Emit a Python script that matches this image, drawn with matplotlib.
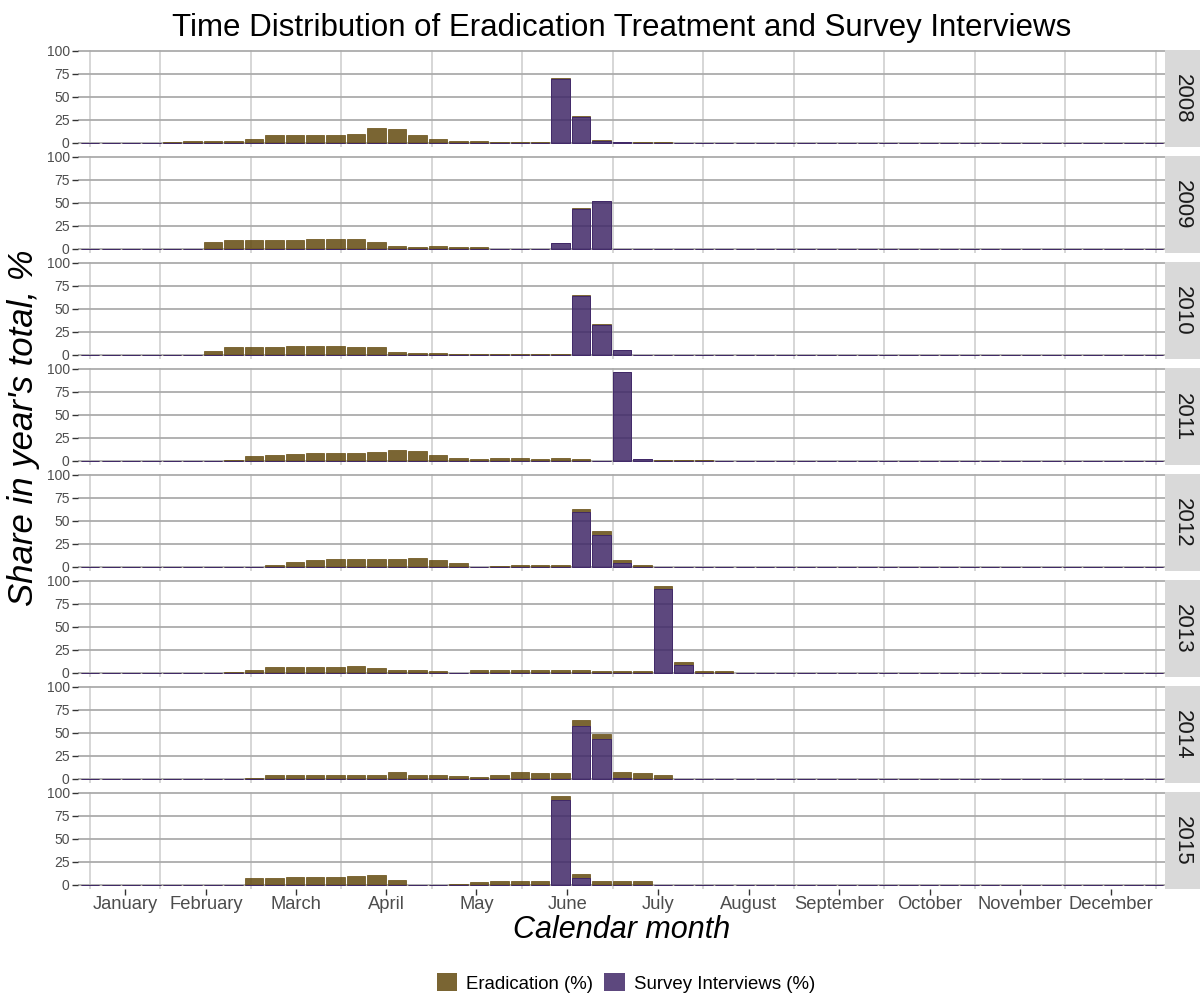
import numpy as np
import matplotlib
matplotlib.use('Agg')
from matplotlib import pyplot as plt
from matplotlib.colors import to_rgba
from matplotlib.patches import Rectangle

plt.rcParams['font.family'] = ['Liberation Sans', 'DejaVu Sans']

years = [2008, 2009, 2010, 2011, 2012, 2013, 2014, 2015]
n_weeks = 53
weeks = np.arange(1, n_weeks + 1)

# eradication share, weeks 5..32 (zero elsewhere)
erad_2008 = [1, 2, 2, 2, 4.3, 8.7, 8.7, 8.7, 8.7, 9.7, 16.2, 15.2, 8.7, 4.3, 2.2, 2.2, 1.1, 1.1, 1.1, 1, 0.5, 1.4, 0, 1, 1, 0, 0, 0]
erad_2009 = [0, 0, 7.2, 9.4, 9.4, 9.4, 9.4, 10.5, 10.5, 10.5, 7.2, 2.9, 1.8, 2.9, 1.8, 1.8, 0, 0, 0, 0, 1, 0, 0, 0, 0, 0, 0, 0]
erad_2010 = [0, 0, 4.7, 9.1, 9.1, 9.1, 10.2, 10.2, 10.2, 9.1, 9.1, 3.6, 2.5, 2.5, 1.5, 1.5, 1.5, 1.5, 1.5, 1.5, 0.6, 0.9, 0, 0, 0, 0, 0, 0]
erad_2011 = [0, 0, 0, 1.1, 5.4, 6.5, 7.6, 8.7, 8.7, 8.7, 9.8, 12, 10.9, 6.5, 3.3, 2.2, 3.3, 3.3, 2.2, 3.3, 2.2, 0, 0, 0, 0.8, 0.8, 0.8, 0]
erad_2012 = [0, 0, 0, 0, 0, 2.5, 5.8, 8, 9.1, 9.1, 9.1, 9.1, 10.2, 8, 4.7, 0, 1.5, 2.5, 2.5, 2.5, 3.2, 3.3, 3.3, 2.5, 0, 0, 0, 0]
erad_2013 = [0, 0, 0, 1.1, 3.3, 6.5, 6.5, 6.5, 6.5, 7.6, 5.4, 3.3, 3.3, 2.2, 0, 3.3, 3.3, 3.3, 3.3, 3.3, 3.3, 2.2, 2.2, 2.2, 2.5, 3.3, 2.2, 2.2]
erad_2014 = [0, 0, 0, 0, 1.1, 4.3, 4.3, 4.3, 4.3, 4.3, 4.3, 7.6, 4.3, 4.3, 3.2, 2.2, 4.3, 7.6, 6.5, 6.5, 6.9, 5.7, 6.5, 6, 4.3, 0, 0, 0]
erad_2015 = [0, 0, 0, 0, 7.2, 7.2, 8.3, 8.3, 8.3, 9.4, 10.5, 5, 0, 0, 1.5, 2.9, 4, 4, 4, 4.3, 4.3, 4, 4, 4, 0, 0, 0, 0]

# survey interviews share, weeks 24..30 (zero elsewhere)
survey_2008 = [69, 28.5, 2.2, 0.8, 0, 0, 0]
survey_2009 = [6.1, 43, 51.5, 0, 0, 0, 0]
survey_2010 = [0, 64, 32.5, 5.8, 0, 0, 0]
survey_2011 = [0, 0, 0, 97, 2, 0, 0]
survey_2012 = [0, 59.2, 35.2, 4.7, 0, 0, 0]
survey_2013 = [0, 0, 0, 0, 0, 91.3, 8.7]
survey_2014 = [0, 57, 43, 1.1, 0.5, 0, 0]
survey_2015 = [91.7, 7.2, 0, 0, 0, 0, 0]

erad = [erad_2008, erad_2009, erad_2010, erad_2011, erad_2012, erad_2013, erad_2014, erad_2015]
survey = [survey_2008, survey_2009, survey_2010, survey_2011, survey_2012, survey_2013, survey_2014, survey_2015]

months = ['January', 'February', 'March', 'April', 'May', 'June', 'July',
          'August', 'September', 'October', 'November', 'December']
month_pos = [2.69, 6.65, 11.05, 15.47, 19.88, 24.33, 28.75, 33.2, 37.6, 42.05, 46.45, 50.9]
grid_pos = [1, 4.42, 8.85, 13.27, 17.7, 22.12, 26.55, 30.97, 35.4, 39.82, 44.25, 48.67, 53.1]

olive = '#634A0F'
purple = '#402868'
olive_fill = to_rgba(olive, 0.85)
purple_fill = to_rgba(purple, 0.85)

W, H = 1203, 996
fig = plt.figure(figsize=(W / 100, H / 100), dpi=100)

left, right = 78, 1165
top0, ph, pitch = 50, 97.3, 106
strip_w = 35

for i, yr in enumerate(years):
    e = np.zeros(n_weeks)
    e[4:4 + len(erad[i])] = erad[i]
    s = np.zeros(n_weeks)
    s[23:23 + len(survey[i])] = survey[i]

    top = top0 + i * pitch
    ax = fig.add_axes([left / W, 1 - (top + ph) / H, (right - left) / W, ph / H])
    ax.set_xlim(0.4, 53.55)
    ax.set_ylim(-4.7, 100.8)
    for sp in ax.spines.values():
        sp.set_visible(False)
    ax.set_yticks([0, 25, 50, 75, 100])
    ax.set_xticks(grid_pos, minor=True)
    ax.grid(axis='y', which='major', color='#ABABAB', linewidth=1.3, zorder=0)
    ax.grid(axis='x', which='minor', color='#D3D3D3', linewidth=1.3, zorder=0)
    ax.set_axisbelow(True)
    ax.tick_params(axis='y', length=4, width=1, color='#333333', labelsize=10,
                   labelcolor='#4D4D4D', pad=2)
    ax.tick_params(axis='x', which='minor', length=0)
    ax.set_xticks(month_pos)
    if i == len(years) - 1:
        ax.set_xticklabels(months)
        ax.tick_params(axis='x', which='major', length=4, width=1, color='#333333',
                       labelsize=13.2, labelcolor='#4D4D4D', pad=1)
    else:
        ax.set_xticklabels([])
        ax.tick_params(axis='x', which='major', length=0)

    ax.bar(weeks, e, bottom=s, width=0.9, facecolor=olive_fill,
           edgecolor=olive, linewidth=0.5, zorder=2)
    ax.bar(weeks, s, width=0.9, facecolor=purple_fill,
           edgecolor=purple, linewidth=0.7, zorder=3)

    # facet strip
    sax = fig.add_axes([right / W, 1 - (top + ph) / H, strip_w / W, ph / H])
    sax.set_xticks([])
    sax.set_yticks([])
    for sp in sax.spines.values():
        sp.set_visible(False)
    sax.set_facecolor('#D9D9D9')
    sax.text(0.5, 0.5, str(yr), rotation=-90, ha='center', va='center',
             fontsize=16, color='#1A1A1A', transform=sax.transAxes)

fig.text(622 / W, 1 - 28 / H, 'Time Distribution of Eradication Treatment and Survey Interviews',
         ha='center', va='center', fontsize=22.5, color='black')
fig.text(24 / W, 1 - 428 / H, "Share in year's total, %", rotation=90, ha='center',
         va='center', fontsize=25, style='italic', color='black')
fig.text(622 / W, 1 - 930 / H, 'Calendar month', ha='center', va='center',
         fontsize=22, style='italic', color='black')

# legend
handles = [Rectangle((0, 0), 1, 1, facecolor=olive_fill),
           Rectangle((0, 0), 1, 1, facecolor=purple_fill)]
fig.legend(handles, ['Eradication (%)', 'Survey Interviews (%)'], loc='center',
           bbox_to_anchor=(626 / W, 1 - 983 / H), ncol=2, frameon=False,
           fontsize=13.4, handlelength=1.1, handleheight=1.1, handletextpad=0.5,
           columnspacing=0.6)

fig.savefig('out.png', dpi=100)
